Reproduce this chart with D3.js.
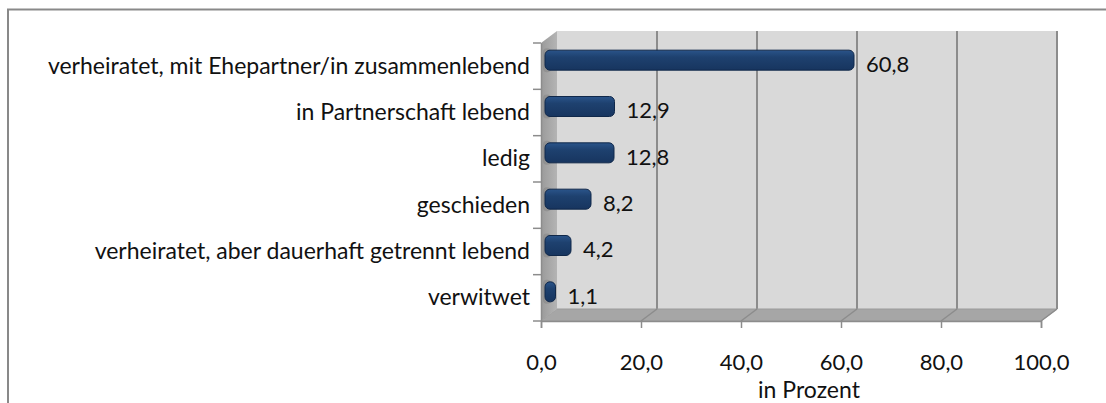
<!DOCTYPE html>
<html>
<head>
<meta charset="utf-8">
<script src="https://cdn.jsdelivr.net/npm/d3@7"></script>
<style>
  body { margin: 0; background: #fff; }
  svg { display: block; }
  .cat { font-family: Lato, "Open Sans", sans-serif; font-size: 23px; fill: #111; }
  .num { font-family: Lato, "Open Sans", sans-serif; font-size: 22px; fill: #111; }
</style>
</head>
<body>
<div id="chart"></div>
<script>
"use strict";

// categories and values (percent)
var categories = [
  "verheiratet, mit Ehepartner/in zusammenlebend",
  "in Partnerschaft lebend",
  "ledig",
  "geschieden",
  "verheiratet, aber dauerhaft getrennt lebend",
  "verwitwet"
];
var values = [60.8, 12.9, 12.8, 8.2, 4.2, 1.1];
var xTicks = [0, 20, 40, 60, 80, 100];
var xTitle = "in Prozent";

var width = 1106, height = 403;
var depth = { dx: 16, dy: -12 };   // offset of back wall against front plane

var fmt = function(v) { return v.toFixed(1).replace(".", ","); };

var svg = d3.select("#chart").append("svg")
  .attr("width", width).attr("height", height);

var defs = svg.append("defs");

var barGrad = defs.append("linearGradient")
  .attr("id", "barGrad").attr("x1", 0).attr("y1", 0).attr("x2", 0).attr("y2", 1);
barGrad.append("stop").attr("offset", "0%").attr("stop-color", "#2a548a");
barGrad.append("stop").attr("offset", "35%").attr("stop-color", "#1e416f");
barGrad.append("stop").attr("offset", "100%").attr("stop-color", "#17355f");

var wallGrad = defs.append("linearGradient")
  .attr("id", "wallGrad").attr("x1", 0).attr("y1", 0).attr("x2", 1).attr("y2", 0);
wallGrad.append("stop").attr("offset", "0%").attr("stop-color", "#9a9a9a");
wallGrad.append("stop").attr("offset", "100%").attr("stop-color", "#b4b4b4");

// outer frame
svg.append("rect")
  .attr("x", 8).attr("y", 9.5)
  .attr("width", width + 10).attr("height", height + 10)
  .attr("fill", "none").attr("stroke", "#898989").attr("stroke-width", 2);

// front plane scales
var x = d3.scaleLinear().domain([0, 100]).range([541, 1041]);
var y = d3.scaleBand().domain(categories).range([43, 321]);

// back wall
svg.append("rect")
  .attr("x", x(0) + depth.dx).attr("y", y.range()[0] + depth.dy)
  .attr("width", x(100) - x(0)).attr("height", y.range()[1] - y.range()[0])
  .attr("fill", "#d9d9d9");

// gridlines on back wall
svg.append("g").selectAll("line")
  .data(xTicks.slice(1))
  .enter().append("line")
  .attr("x1", function(d) { return x(d) + depth.dx; })
  .attr("x2", function(d) { return x(d) + depth.dx; })
  .attr("y1", y.range()[0] + depth.dy)
  .attr("y2", y.range()[1] + depth.dy)
  .attr("stroke", "#8c8c8c").attr("stroke-width", 2);

// floor
var floorPts = [
  [x(0), y.range()[1]],
  [x(0) + depth.dx, y.range()[1] + depth.dy],
  [x(100) + depth.dx, y.range()[1] + depth.dy],
  [x(100), y.range()[1]]
];
svg.append("polygon")
  .attr("points", floorPts.map(function(p) { return p.join(","); }).join(" "))
  .attr("fill", "#a6a6a6").attr("stroke", "#9a9a9a").attr("stroke-width", 1);

svg.append("g").selectAll("line")
  .data(xTicks.slice(1))
  .enter().append("line")
  .attr("x1", function(d) { return x(d); })
  .attr("x2", function(d) { return x(d) + depth.dx; })
  .attr("y1", y.range()[1])
  .attr("y2", y.range()[1] + depth.dy)
  .attr("stroke", "#8c8c8c").attr("stroke-width", 1.5);

// left wall
var wallPts = [
  [x(0), y.range()[0]],
  [x(0) + depth.dx, y.range()[0] + depth.dy],
  [x(0) + depth.dx, y.range()[1] + depth.dy],
  [x(0), y.range()[1]]
];
svg.append("polygon")
  .attr("points", wallPts.map(function(p) { return p.join(","); }).join(" "))
  .attr("fill", "url(#wallGrad)");

// bars (drawn at half depth)
var bx = depth.dx / 2 - 1, by = depth.dy / 2;
var barH = 20;

var bars = svg.append("g");

// soft shadow of bars on left wall
bars.selectAll("rect.shadow")
  .data(values)
  .enter().append("rect")
  .attr("class", "shadow")
  .attr("x", x(0) + 2)
  .attr("y", function(d, i) { return y(categories[i]) + y.bandwidth() / 2 + by - barH / 2 - 2; })
  .attr("width", 8)
  .attr("height", barH + 4)
  .attr("rx", 4)
  .attr("fill", "#7f7f7f").attr("opacity", 0.45);

bars.selectAll("rect.bar")
  .data(values)
  .enter().append("rect")
  .attr("class", "bar")
  .attr("x", x(0) + bx - 3)
  .attr("y", function(d, i) { return y(categories[i]) + y.bandwidth() / 2 + by - barH / 2; })
  .attr("width", function(d) { return x(d) - x(0) + 5; })
  .attr("height", barH)
  .attr("rx", 5)
  .attr("fill", "url(#barGrad)")
  .attr("stroke", "#10284a").attr("stroke-width", 1);

// value labels
svg.append("g").selectAll("text")
  .data(values)
  .enter().append("text")
  .attr("class", "num")
  .attr("x", function(d) { return x(d) + bx + 14; })
  .attr("y", function(d, i) { return y(categories[i]) + y.bandwidth() / 2 - 2; })
  .attr("dy", "0.35em")
  .text(fmt);

// front axes
var xAxis = d3.axisBottom(x).tickValues(xTicks).tickSize(7).tickFormat(fmt);
var gx = svg.append("g")
  .attr("transform", "translate(0," + y.range()[1] + ")")
  .call(xAxis);
gx.select(".domain").attr("stroke", "#8c8c8c").attr("stroke-width", 1.5);
gx.selectAll(".tick line").attr("stroke", "#8c8c8c").attr("stroke-width", 1.5);
gx.selectAll(".tick text")
  .attr("class", "num")
  .attr("y", 33)
  .attr("font-size", null).attr("font-family", null);

var yAxis = d3.axisLeft(y).tickSize(0).tickPadding(11);
var gy = svg.append("g")
  .attr("transform", "translate(" + x(0) + ",0)")
  .call(yAxis);
gy.select(".domain").attr("stroke", "#8c8c8c").attr("stroke-width", 1.5);
gy.selectAll(".tick text")
  .attr("class", "cat")
  .attr("font-size", null).attr("font-family", null);

// y tick marks sit on band boundaries
svg.append("g").selectAll("line")
  .data(categories.concat([null]))
  .enter().append("line")
  .attr("x1", x(0) - 8).attr("x2", x(0))
  .attr("y1", function(d, i) { return y.range()[0] + i * y.step(); })
  .attr("y2", function(d, i) { return y.range()[0] + i * y.step(); })
  .attr("stroke", "#8c8c8c").attr("stroke-width", 1.5);

// axis title
svg.append("text")
  .attr("class", "cat")
  .attr("x", 809).attr("y", 398)
  .attr("text-anchor", "middle")
  .text(xTitle);
</script>
</body>
</html>
